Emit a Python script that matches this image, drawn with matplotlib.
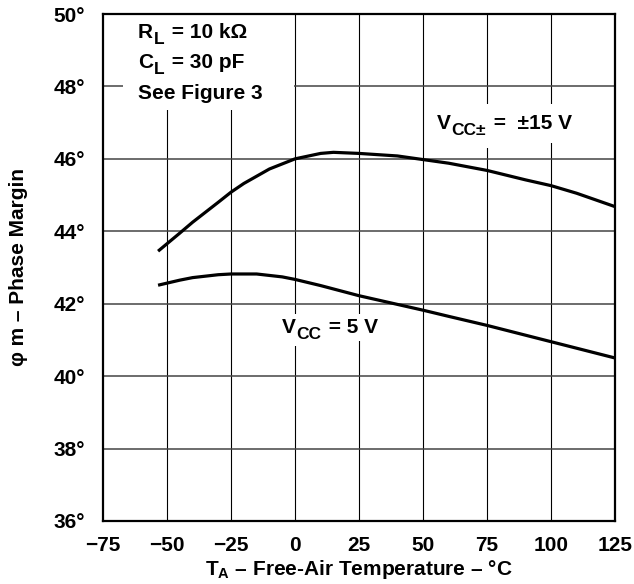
import numpy as np
import matplotlib
matplotlib.use("Agg")
import matplotlib.pyplot as plt
from matplotlib.patches import Rectangle

plt.rcParams['font.family'] = ['Liberation Sans', 'DejaVu Sans']
plt.rcParams['font.weight'] = 'bold'
plt.rcParams['axes.labelweight'] = 'bold'
plt.rcParams['font.size'] = 15
plt.rcParams['mathtext.fontset'] = 'custom'
plt.rcParams['mathtext.rm'] = 'Liberation Sans:bold'
plt.rcParams['mathtext.bf'] = 'Liberation Sans:bold'
plt.rcParams['mathtext.it'] = 'Liberation Sans:bold'

# phase margin vs free-air temperature
temp_15v = [-53.5, -45, -40, -30, -25, -20, -10, 0, 10, 15, 25, 40, 50, 60, 75, 90, 100, 110, 125]
pm_15v = [43.45, 43.95, 44.25, 44.8, 45.08, 45.32, 45.72, 46.0, 46.15, 46.18, 46.15, 46.08,
          45.98, 45.88, 45.68, 45.42, 45.26, 45.05, 44.68]

temp_5v = [-53.5, -45, -40, -30, -25, -15, -5, 0, 10, 25, 40, 50, 60, 75, 90, 100, 110, 125]
pm_5v = [42.51, 42.65, 42.72, 42.8, 42.82, 42.82, 42.74, 42.67, 42.5, 42.22, 41.98, 41.82,
         41.65, 41.4, 41.13, 40.95, 40.77, 40.5]

x_ticks = [-75, -50, -25, 0, 25, 50, 75, 100, 125]
x_tick_labels = ['\u221275', '\u221250', '\u221225', '0', '25', '50', '75', '100', '125']
y_ticks = [36, 38, 40, 42, 44, 46, 48, 50]
y_tick_labels = [f'{v}\u00b0' for v in y_ticks]

fig = plt.figure(figsize=(6.34, 5.84), dpi=100)
ax = fig.add_axes([0.1625, 0.108, 0.8076, 0.868])

ax.set_xlim(-75, 125)
ax.set_ylim(36, 50)

# grid drawn by hand so the labels can mask it
for xv in x_ticks[1:-1]:
    ax.axvline(xv, color='black', lw=0.8, zorder=1)
for yv in y_ticks[1:-1]:
    ax.axhline(yv, color='#444444', lw=1.1, zorder=1)

ax.plot(temp_15v, pm_15v, color='black', lw=2.3, zorder=4, solid_capstyle='butt')
ax.plot(temp_5v, pm_5v, color='black', lw=2.3, zorder=4, solid_capstyle='butt')

ax.set_xticks(x_ticks)
ax.set_xticklabels(x_tick_labels)
ax.set_yticks(y_ticks)
ax.set_yticklabels(y_tick_labels)
ax.tick_params(length=0, labelsize=15)
ax.tick_params(axis='x', pad=11)
ax.tick_params(axis='y', pad=13)

for s in ax.spines.values():
    s.set_linewidth(1.6)
    s.set_zorder(5)


def sub_label(x, y, main, sub, rest, pad=0.0, size=15, sub_size=12.5):
    # first pass: white boxes only (masks the grid), second pass: the text
    passes = [(2, 'white', dict(facecolor='white', edgecolor='none', pad=pad))] if pad else []
    passes.append((3, 'black', None))
    for z, col, box in passes:
        t1 = ax.text(x, y, main, fontsize=size, va='baseline', zorder=z, color=col, bbox=box)
        t2 = ax.annotate(sub, xy=(1, 0), xycoords=t1, xytext=(0.5, -3.5),
                         textcoords='offset points', fontsize=sub_size, va='bottom',
                         zorder=z, color=col, bbox=box)
        ax.annotate(rest, xy=(1, 0), xycoords=(t2, t1), xytext=(1, 0),
                    textcoords='offset points', fontsize=size, va='bottom',
                    zorder=z, color=col, bbox=box)


# white block behind the conditions text in the top-left corner
ax.add_patch(Rectangle((-67.2, 47.35), 66.9, 2.65, facecolor='white',
                       edgecolor='none', zorder=2))
sub_label(-61.3, 49.34, 'R', 'L', ' = 10 k\u03a9')
sub_label(-61.3, 48.51, 'C', 'L', ' = 30 pF')
ax.text(-61.3, 47.65, 'See Figure 3', fontsize=15, va='baseline', zorder=3)

sub_label(55.5, 46.82, 'V', 'CC\u00b1', ' =  \u00b115 V', pad=7)
sub_label(-5.1, 41.19, 'V', 'CC', ' = 5 V', pad=3)

ax.set_xlabel('T$_\\mathregular{A}$ \u2013 Free-Air Temperature \u2013 \u00b0C',
              fontsize=15, fontweight='bold', labelpad=2)
ax.set_ylabel('\u03c6 m \u2013 Phase Margin', fontsize=15, fontweight='bold', labelpad=18)

fig.savefig('out.png', dpi=100)
